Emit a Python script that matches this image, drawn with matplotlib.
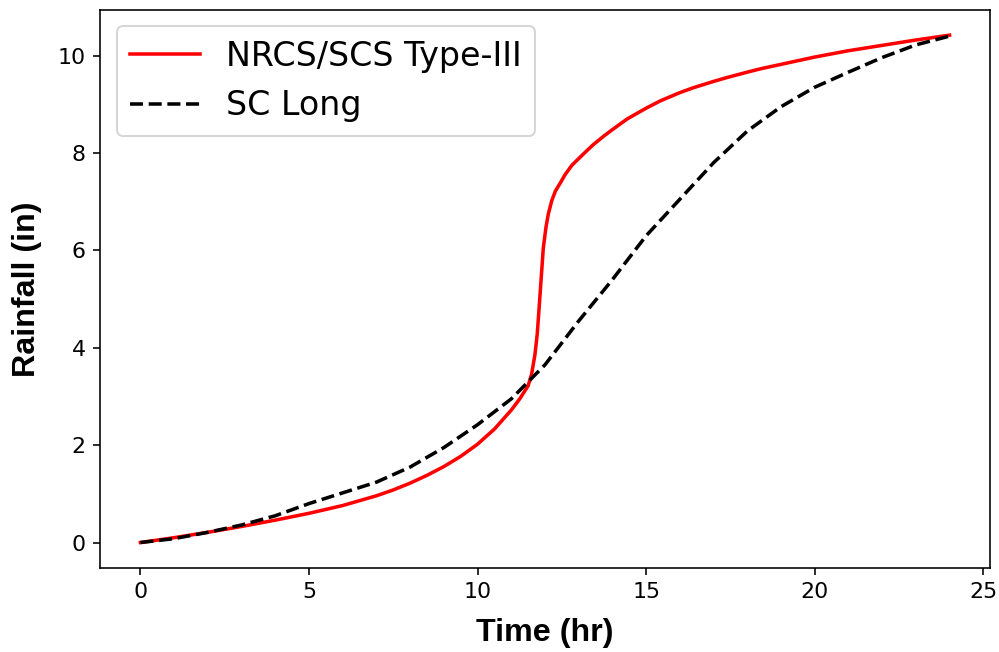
import numpy as np
import matplotlib
matplotlib.use('Agg')
import matplotlib.pyplot as plt

# NRCS/SCS Type-III cumulative rainfall (in)
t_type3 = [0, 1, 2, 3, 4, 5, 6, 7, 7.5, 8, 8.5, 9, 9.5, 10, 10.5, 11, 11.25,
           11.5, 11.6, 11.7, 11.77, 11.86, 11.95, 12.03, 12.1, 12.2, 12.31,
           12.45, 12.6, 12.8, 13.14, 13.43, 13.75, 14, 14.44, 15, 15.42, 16,
           16.4, 17, 17.4, 18, 18.4, 19, 20, 21, 22, 23, 24]
p_type3 = [0, 0.10, 0.21, 0.33, 0.46, 0.60, 0.76, 0.96, 1.08, 1.22, 1.38,
           1.56, 1.77, 2.02, 2.33, 2.72, 2.95, 3.22, 3.45, 3.85, 4.28, 5.16,
           6.05, 6.48, 6.75, 7.02, 7.22, 7.38, 7.56, 7.75, 7.98, 8.17, 8.35,
           8.48, 8.70, 8.92, 9.07, 9.24, 9.34, 9.47, 9.55, 9.66, 9.73, 9.82,
           9.97, 10.10, 10.21, 10.32, 10.42]

# SC Long cumulative rainfall (in)
t_sclong = [0, 1, 2, 3, 4, 5, 6, 7, 8, 9, 10, 11, 12, 13, 14, 15, 16, 17, 18,
            19, 20, 21, 22, 23, 24]
p_sclong = [0, 0.08, 0.21, 0.36, 0.55, 0.80, 1.02, 1.24, 1.55, 1.95, 2.42,
            2.95, 3.65, 4.55, 5.40, 6.30, 7.05, 7.80, 8.45, 8.95, 9.35, 9.66,
            9.96, 10.22, 10.40]

fig = plt.figure(figsize=(1000 / 145, 652 / 145), dpi=145)
ax = fig.add_axes([0.1, 0.129, 0.89, 0.856])

ax.plot(t_type3, p_type3, color='red', linewidth=1.75, label='NRCS/SCS Type-III')
ax.plot(t_sclong, p_sclong, color='black', linestyle='--', linewidth=1.75, label='SC Long')

ax.set_xlabel('Time (hr)', fontsize=16, fontweight='bold', family='Liberation Sans',
              labelpad=8)
ax.set_ylabel('Rainfall (in)', fontsize=16, fontweight='bold', family='Liberation Sans',
              labelpad=8)
ax.tick_params(labelsize=11)
ax.set_xticks([0, 5, 10, 15, 20, 25])

ax.legend(loc='upper left', fontsize=16.5, handlelength=2.1)

fig.savefig('out.png', dpi=145)
